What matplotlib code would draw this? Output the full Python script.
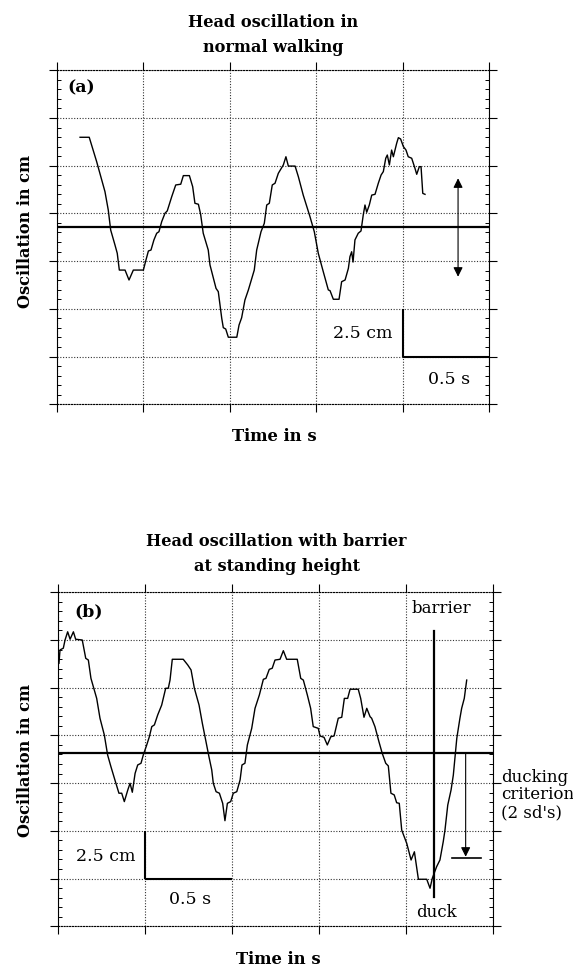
import matplotlib
matplotlib.use("Agg")
import matplotlib.pyplot as plt
import numpy as np

plt.rcParams["font.family"] = "DejaVu Serif"

# (a) normal walking: time in s, head oscillation in cm
a_time = [0.135, 0.188, 0.231, 0.279, 0.298, 0.312, 0.337, 0.350, 0.362, 0.395,
          0.418, 0.443, 0.501, 0.516, 0.530, 0.545, 0.562, 0.578, 0.591, 0.607,
          0.626, 0.639, 0.665, 0.688, 0.717, 0.732, 0.767, 0.786, 0.799, 0.819,
          0.832, 0.847, 0.876, 0.886, 0.921, 0.934, 0.954, 0.963, 0.977, 0.992,
          1.041, 1.054, 1.069, 1.088, 1.108, 1.142, 1.156, 1.181, 1.200, 1.214,
          1.229, 1.246, 1.262, 1.281, 1.310, 1.325, 1.339, 1.378, 1.397, 1.425,
          1.464, 1.489, 1.512, 1.541, 1.570, 1.580, 1.599, 1.632, 1.647, 1.667,
          1.686, 1.695, 1.705, 1.713, 1.724, 1.743, 1.759, 1.772, 1.782, 1.792,
          1.807, 1.821, 1.840, 1.859, 1.875, 1.888, 1.902, 1.911, 1.923, 1.936,
          1.946, 1.965, 1.975, 1.988, 2.004, 2.019, 2.032, 2.052, 2.071, 2.081,
          2.096, 2.106, 2.116, 2.129]
a_osc = [13.99, 13.99, 12.71, 11.14, 10.18, 9.13, 8.34, 7.91, 7.03, 7.03,
         6.51, 7.03, 7.03, 7.56, 8.03, 8.08, 8.61, 8.96, 9.04, 9.57,
         10.01, 10.13, 10.88, 11.49, 11.53, 11.98, 11.98, 11.40, 10.53, 10.48,
         9.95, 8.96, 8.08, 7.30, 6.07, 5.90, 4.50, 4.01, 3.94, 3.51,
         3.51, 4.15, 4.53, 5.46, 5.99, 7.03, 8.08, 9.04, 9.48, 10.44,
         10.53, 11.49, 11.58, 12.10, 12.54, 12.97, 12.48, 12.48, 11.92, 10.96,
         9.83, 9.04, 7.91, 6.94, 5.99, 5.95, 5.50, 5.50, 6.42, 6.51,
         7.12, 7.73, 7.99, 7.45, 8.61, 8.96, 9.08, 9.92, 10.44, 10.06,
         10.44, 10.96, 11.00, 11.58, 12.01, 12.19, 12.89, 13.06, 12.54, 13.32,
         12.97, 13.67, 13.97, 13.90, 13.50, 13.32, 12.97, 12.89, 12.36, 12.05,
         12.45, 12.45, 11.05, 11.00]
a_mean = 9.27
a_arrow_time = 2.32
a_arrow_span = [6.68, 11.84]

# (b) barrier at standing height
b_time = [0.005, 0.011, 0.030, 0.040, 0.055, 0.069, 0.088, 0.101, 0.139, 0.159,
          0.174, 0.189, 0.222, 0.241, 0.266, 0.285, 0.304, 0.327, 0.350, 0.366,
          0.381, 0.401, 0.414, 0.427, 0.443, 0.458, 0.477, 0.490, 0.510, 0.525,
          0.539, 0.554, 0.573, 0.596, 0.619, 0.634, 0.644, 0.657, 0.720, 0.746,
          0.765, 0.784, 0.811, 0.830, 0.849, 0.868, 0.884, 0.893, 0.909, 0.928,
          0.947, 0.960, 0.974, 0.993, 1.008, 1.028, 1.047, 1.058, 1.075, 1.089,
          1.114, 1.133, 1.158, 1.181, 1.196, 1.215, 1.232, 1.248, 1.277, 1.296,
          1.315, 1.376, 1.396, 1.411, 1.434, 1.453, 1.468, 1.497, 1.507, 1.530,
          1.549, 1.569, 1.588, 1.612, 1.632, 1.647, 1.666, 1.680, 1.727, 1.741,
          1.760, 1.776, 1.795, 1.804, 1.823, 1.846, 1.865, 1.885, 1.900, 1.915,
          1.934, 1.948, 1.963, 1.977, 2.006, 2.031, 2.050, 2.073, 2.121, 2.140,
          2.153, 2.178, 2.197, 2.216, 2.226, 2.242, 2.261, 2.274, 2.294, 2.312,
          2.322, 2.337, 2.351]
b_osc = [13.78, 14.48, 14.57, 15.00, 15.43, 15.04, 15.43, 15.04, 15.00, 14.04,
         13.95, 12.99, 11.94, 10.90, 10.02, 8.97, 8.36, 7.66, 6.97, 6.97,
         6.53, 7.14, 7.49, 7.02, 8.01, 8.45, 8.54, 8.97, 9.50, 9.93,
         10.46, 10.55, 11.07, 11.59, 12.47, 12.47, 12.90, 13.99, 13.99, 13.69,
         13.43, 12.47, 11.59, 10.63, 9.76, 8.88, 8.19, 7.49, 7.05, 6.97,
         6.44, 5.53, 6.44, 6.53, 6.97, 7.05, 7.66, 8.45, 8.54, 9.50,
         10.37, 11.42, 12.12, 12.94, 12.99, 13.46, 13.52, 13.95, 13.99, 14.44,
         13.99, 13.99, 12.99, 12.90, 12.12, 11.42, 10.46, 10.37, 9.97, 9.90,
         9.50, 9.93, 9.97, 10.90, 10.95, 11.94, 11.94, 12.42, 12.42, 11.94,
         10.95, 11.42, 10.98, 10.90, 10.46, 9.67, 9.06, 8.54, 8.40, 6.97,
         6.88, 6.47, 6.44, 5.04, 4.34, 3.47, 3.90, 2.46, 2.46, 1.99,
         2.51, 3.12, 3.47, 4.43, 5.04, 6.35, 7.14, 7.92, 9.85, 10.90,
         11.42, 11.94, 12.90]
b_criterion = 9.09
barrier_time = 2.163
barrier_span = [1.53, 15.49]
duck_arrow_time = 2.345
duck_level = 3.56
duck_bar = [2.268, 2.432]

W, H = 573, 967


def fx(px):
    return px / W


def fy(py):
    return 1 - py / H


def style_axes(ax):
    ax.set_xlim(0, 2.5)
    ax.set_ylim(0, 17.5)
    ax.set_xticks(np.arange(0, 2.51, 0.5))
    ax.set_yticks(np.arange(0, 17.51, 2.5))
    ax.set_yticks(np.arange(0, 17.51, 0.5), minor=True)
    ax.set_xticklabels([])
    ax.set_yticklabels([])
    ax.tick_params(axis="x", which="major", direction="out", length=6,
                   width=0.8, top=True, bottom=True)
    ax.tick_params(axis="y", which="major", direction="out", length=6,
                   width=0.8, left=True, right=True)
    ax.tick_params(axis="y", which="minor", direction="in", length=3,
                   width=0.7, left=True, right=True)
    ax.grid(True, which="major", color="0.2", linestyle=(0, (1, 1.5)),
            linewidth=0.8)
    for side in ["top", "bottom"]:
        ax.spines[side].set_linestyle((0, (1, 1.5)))
        ax.spines[side].set_linewidth(0.8)
    for side in ["left", "right"]:
        ax.spines[side].set_linewidth(0.8)


def scale_bar(ax, t0, y0, text_cm, text_s):
    ax.plot([t0, t0], [y0, y0 + 2.5], color="black", lw=1.5,
            solid_capstyle="butt")
    ax.plot([t0, t0 + 0.5], [y0, y0], color="black", lw=1.5,
            solid_capstyle="butt")
    ax.text(*text_cm, "2.5 cm", ha="center", va="center", fontsize=12.5)
    ax.text(*text_s, "0.5 s", ha="center", va="center", fontsize=12.5)


fig = plt.figure(figsize=(W / 100, H / 100), dpi=100)

# panel (a)
ax1 = fig.add_axes([fx(56.7), fy(404.2), fx(432.5), 333.9 / H])
style_axes(ax1)
ax1.plot(a_time, a_osc, color="black", lw=1.0)
ax1.axhline(a_mean, color="black", lw=1.6)
ax1.annotate("", xy=(a_arrow_time, a_arrow_span[0]),
             xytext=(a_arrow_time, a_arrow_span[1]),
             arrowprops=dict(arrowstyle="<|-|>", color="black", lw=0.8,
                             mutation_scale=14, shrinkA=0, shrinkB=0))
scale_bar(ax1, 2.0, 2.5, (1.768, 3.72), (2.266, 1.27))
ax1.text(0.062, 16.57, "(a)", ha="left", va="center", fontsize=12.5,
         fontweight="bold")

fig.text(fx(273), fy(35), "Head oscillation in\nnormal walking",
         ha="center", va="center", fontsize=11.6, fontweight="bold",
         linespacing=1.6)
fig.text(fx(274.7), fy(436.7), "Time in s", ha="center", va="center",
         fontsize=11.8, fontweight="bold")
fig.text(fx(25.6), fy(231), "Oscillation in cm", ha="center", va="center",
         rotation=90, fontsize=11.6, fontweight="bold")

# panel (b)
ax2 = fig.add_axes([fx(58.1), fy(926.2), fx(434.5), 333.9 / H])
style_axes(ax2)
ax2.plot(b_time, b_osc, color="black", lw=1.0)
ax2.axhline(b_criterion, color="black", lw=1.6)
ax2.plot([barrier_time, barrier_time], barrier_span, color="black", lw=1.6)
ax2.annotate("", xy=(duck_arrow_time, duck_level + 0.08),
             xytext=(duck_arrow_time, b_criterion),
             arrowprops=dict(arrowstyle="-|>", color="black", lw=0.8,
                             mutation_scale=14, shrinkA=0, shrinkB=0))
ax2.plot(duck_bar, [duck_level, duck_level], color="black", lw=1.2)
scale_bar(ax2, 0.5, 2.5, (0.276, 3.64), (0.762, 1.41))
ax2.text(0.094, 16.48, "(b)", ha="left", va="center", fontsize=12.5,
         fontweight="bold")
ax2.text(2.203, 16.63, "barrier", ha="center", va="center", fontsize=12)
ax2.text(2.174, 0.71, "duck", ha="center", va="center", fontsize=12)
ax2.text(2.547, 6.88, "ducking\ncriterion\n(2 sd's)", ha="left",
         va="center", fontsize=12, linespacing=1.05, clip_on=False)

fig.text(fx(276.5), fy(554), "Head oscillation with barrier\nat standing height",
         ha="center", va="center", fontsize=11.6, fontweight="bold",
         linespacing=1.55)
fig.text(fx(278), fy(960), "Time in s", ha="center", va="center",
         fontsize=11.8, fontweight="bold")
fig.text(fx(25.6), fy(760), "Oscillation in cm", ha="center", va="center",
         rotation=90, fontsize=11.6, fontweight="bold")

fig.savefig("out.png", dpi=100)
